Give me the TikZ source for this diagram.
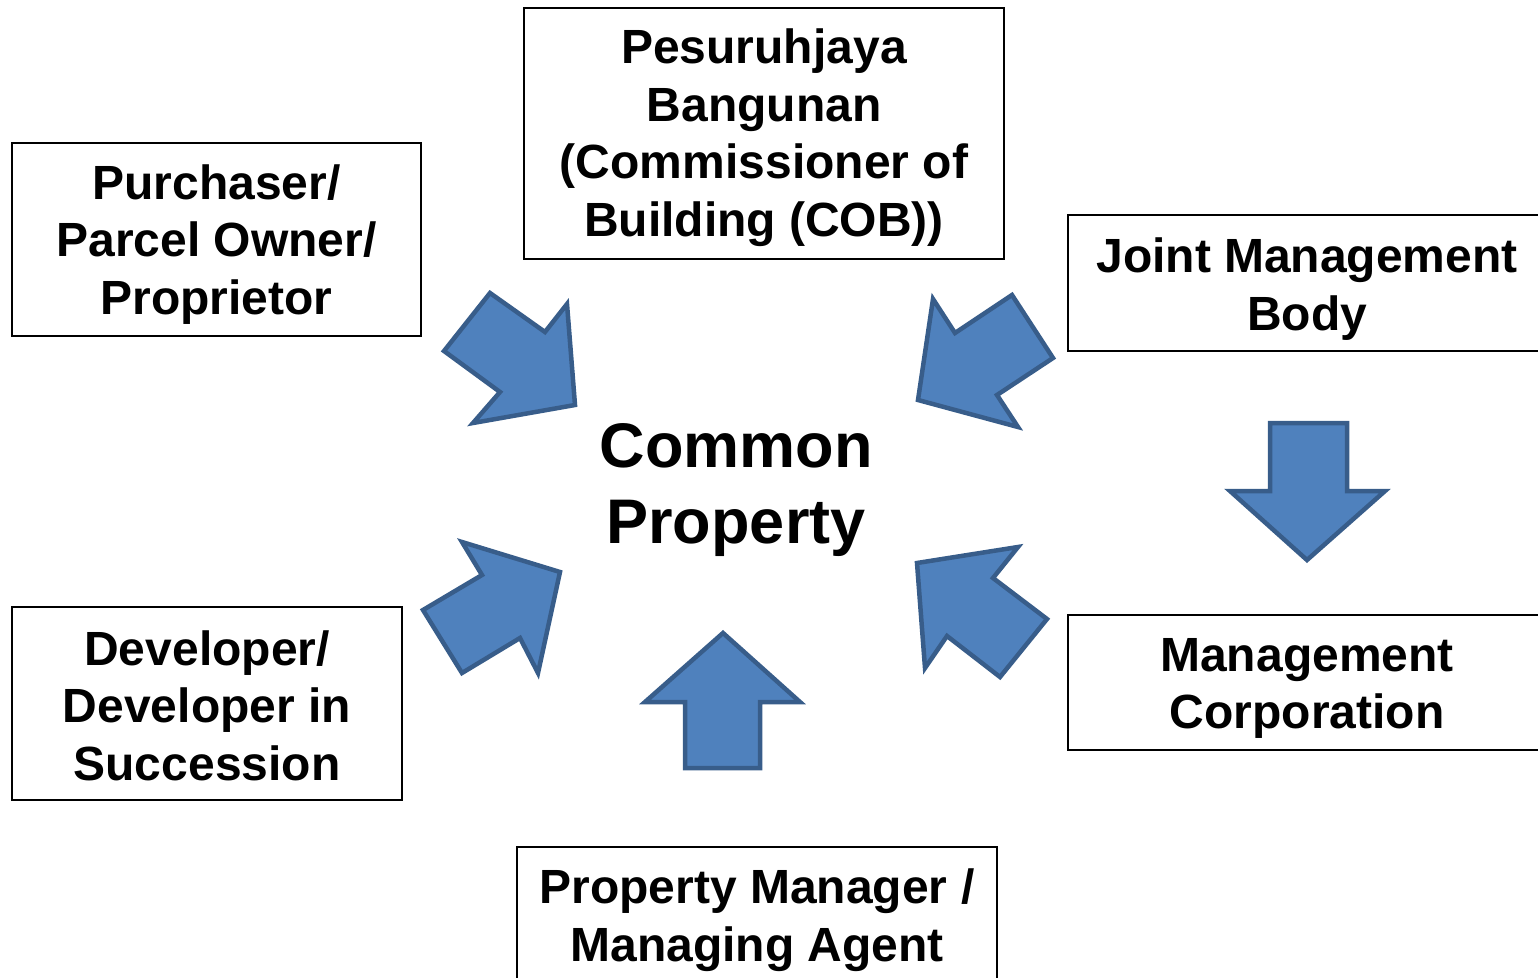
\documentclass[tikz,border=0pt]{standalone}
\usepackage{fontspec}
\setmainfont{Liberation Sans}
\begin{document}
\begin{tikzpicture}[x=1pt,y=-1pt,
  box/.style={draw=black,line width=1.6pt,fill=white,inner sep=0pt},
  boxtext/.style={inner sep=0pt,align=center,font=\fontsize{48}{57.5}\selectfont\bfseries},
  blockarrow/.style={draw=arrowedge,fill=arrowfill,line width=4.5pt,line join=miter},
  centre/.style={inner sep=0pt,align=center,font=\fontsize{63}{76}\selectfont\bfseries}]
\definecolor{arrowfill}{HTML}{4F81BD}
\definecolor{arrowedge}{HTML}{385D8A}
\useasboundingbox (0,0) rectangle (1538,977);
\clip (0,0) rectangle (1538,977);

% stakeholder boxes
\node[box,minimum width=409pt,minimum height=193pt] (purchaser) at (216.5,239.5) {};
\node[box,minimum width=480pt,minimum height=251pt] (cob) at (764,133.5) {};
\node[box,minimum width=478pt,minimum height=136pt] (jmb) at (1307,283) {};
\node[box,minimum width=478pt,minimum height=135pt] (mc) at (1307,682.5) {};
\node[box,minimum width=390pt,minimum height=193pt] (developer) at (207,703.5) {};
\node[box,minimum width=480pt,minimum height=140pt] (pm) at (757,917) {};

% box captions, set slightly below each box centre
\node[boxtext] (purchasertext) at ([yshift=-5pt]purchaser.center)
  {Purchaser/\\Parcel Owner/\\Proprietor};
\node[boxtext] (cobtext) at ([yshift=-4pt]cob.center)
  {Pesuruhjaya\\Bangunan\\(Commissioner of\\Building (COB))};
\node[boxtext] (jmbtext) at ([yshift=-6pt]jmb.center) {Joint Management\\Body};
\node[boxtext] (mctext) at ([yshift=-6pt]mc.center) {Management\\Corporation};
\node[boxtext] (developertext) at ([yshift=-2pt]developer.center)
  {Developer/\\Developer in\\Succession};
\node[boxtext] (pmtext) at ([yshift=-3pt]pm.center) {Property Manager /\\Managing Agent};

% centre label
\node[centre] (common) at (736,490) {Common\\Property};

% block arrows pointing at the common property
\draw[blockarrow] (490,293) -- (545,332) -- (567,304) -- (575,405) -- (473,423)
  -- (500,392) -- (444,351) -- cycle;
\draw[blockarrow] (933,299) -- (955,333) -- (1012,295) -- (1053,358) -- (997,395)
  -- (1018,427) -- (918,400) -- cycle;
\draw[blockarrow] (462,542) -- (560,572) -- (538,673) -- (520,638) -- (462,673)
  -- (423,610) -- (482,575) -- cycle;
\draw[blockarrow] (917,563) -- (1018,547) -- (993,578) -- (1047,619) -- (1000,677)
  -- (947,636) -- (925,668) -- cycle;
\draw[blockarrow] (723,633) -- (800,702) -- (760,702) -- (760,768) -- (685,768)
  -- (685,702) -- (645,702) -- cycle;
% joint management body leads to management corporation
\draw[blockarrow] (1270,423) -- (1347,423) -- (1347,491) -- (1385,491) -- (1307,560)
  -- (1230,491) -- (1270,491) -- cycle;
\end{tikzpicture}
\end{document}
